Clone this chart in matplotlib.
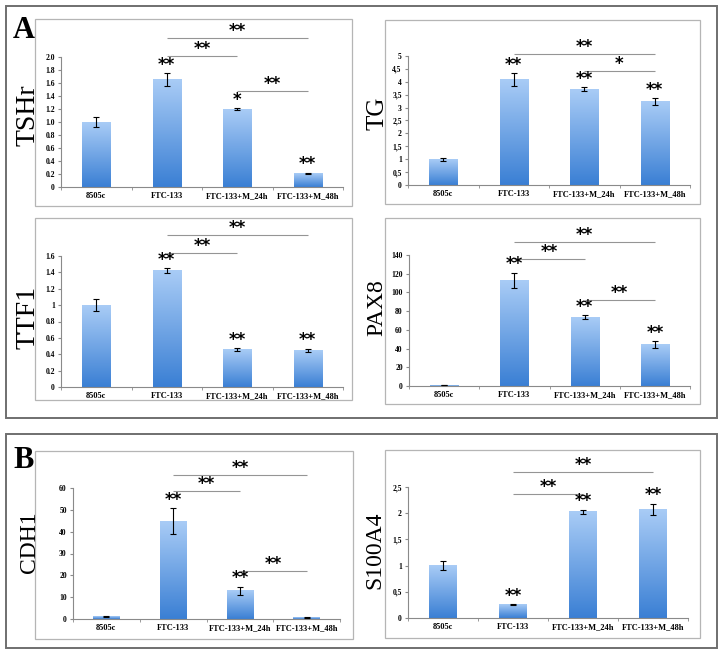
import numpy as np
import matplotlib
matplotlib.use("Agg")
import matplotlib.pyplot as plt
from matplotlib.colors import LinearSegmentedColormap
from matplotlib.patches import Rectangle

# ---------------- data ----------------
categories = ["8505c", "FTC-133", "FTC-133+M_24h", "FTC-133+M_48h"]

tshr = [1.0, 1.65, 1.2, 0.21]
tshr_err = [0.07, 0.10, 0.015, 0.01]
tshr_stars = ["", "**", "*", "**"]
tshr_cmp = [(1, 3, 2.29, "**"), (1, 2, 2.01, "**"), (2, 3, 1.48, "**")]
tshr_ticks = [0, 0.2, 0.4, 0.6, 0.8, 1.0, 1.2, 1.4, 1.6, 1.8, 2.0]
tshr_ticklabels = ["0", "0.2", "0.4", "0.6", "0.8", "1.0", "1.2", "1.4", "1.6", "1.8", "2.0"]

tg = [1.0, 4.08, 3.72, 3.23]
tg_err = [0.06, 0.26, 0.08, 0.14]
tg_stars = ["", "**", "**", "**"]
tg_cmp = [(1, 3, 5.07, "**"), (2, 3, 4.41, "*")]
tg_ticks = [0, 0.5, 1, 1.5, 2, 2.5, 3, 3.5, 4, 4.5, 5]
tg_ticklabels = ["0", "0,5", "1", "1,5", "2", "2,5", "3", "3,5", "4", "4,5", "5"]

ttf1 = [1.0, 1.42, 0.46, 0.45]
ttf1_err = [0.075, 0.03, 0.015, 0.02]
ttf1_stars = ["", "**", "**", "**"]
ttf1_cmp = [(1, 3, 1.86, "**"), (1, 2, 1.64, "**")]
ttf1_ticks = [0, 0.2, 0.4, 0.6, 0.8, 1.0, 1.2, 1.4, 1.6]
ttf1_ticklabels = ["0", "0.2", "0.4", "0.6", "0.8", "1", "1.2", "1.4", "1.6"]

pax8 = [1.0, 113, 73.5, 44.5]
pax8_err = [0.3, 8, 2.3, 3.5]
pax8_stars = ["", "**", "**", "**"]
pax8_cmp = [(1, 3, 154, "**"), (1, 2, 136, "**"), (2, 3, 92, "**")]
pax8_ticks = [0, 20, 40, 60, 80, 100, 120, 140]
pax8_ticklabels = ["0", "20", "40", "60", "80", "100", "120", "140"]

cdh1 = [1.0, 44.8, 13.0, 0.8]
cdh1_err = [0.2, 6.0, 1.8, 0.2]
cdh1_stars = ["", "**", "**", ""]
cdh1_cmp = [(1, 3, 65.8, "**"), (1, 2, 58.6, "**"), (2, 3, 22.0, "**")]
cdh1_ticks = [0, 10, 20, 30, 40, 50, 60]
cdh1_ticklabels = ["0", "10", "20", "30", "40", "50", "60"]

s100a4 = [1.0, 0.26, 2.03, 2.07]
s100a4_err = [0.09, 0.01, 0.04, 0.11]
s100a4_stars = ["", "**", "**", "**"]
s100a4_cmp = [(1, 3, 2.78, "**"), (1, 2, 2.37, "**")]
s100a4_ticks = [0, 0.5, 1, 1.5, 2, 2.5]
s100a4_ticklabels = ["0", "0,5", "1", "1,5", "2", "2,5"]

# ---------------- layout ----------------
W, H = 723, 662
fig = plt.figure(figsize=(W / 100, H / 100), dpi=100)
fig.patch.set_facecolor("white")

SERIF = ["Liberation Serif", "DejaVu Serif"]
cmap = LinearSegmentedColormap.from_list("bar", ["#3a7fd4", "#a9ccf6"])
grad = np.linspace(0, 1, 256).reshape(-1, 1)


def fig_rect(x0, y0, x1, y1, ec, lw):
    r = Rectangle((x0 / W, 1 - y1 / H), (x1 - x0) / W, (y1 - y0) / H,
                  transform=fig.transFigure, fill=False, ec=ec, lw=lw)
    fig.add_artist(r)


def panel(box, axpix, label, label_x, label_y, label_size, vals, errs, stars,
          cmps, ticks, ticklabels):
    fig_rect(*box, ec="#b5b5b5", lw=0.9)
    x0, y0, x1, y1 = axpix
    ax = fig.add_axes([x0 / W, 1 - y1 / H, (x1 - x0) / W, (y1 - y0) / H])
    ymax = ticks[-1]
    xs = np.arange(len(categories))
    bars = ax.bar(xs, vals, width=0.4, color="none", edgecolor="none", zorder=2)
    for b in bars:
        bx = b.get_x()
        ax.imshow(grad, extent=[bx, bx + b.get_width(), 0, b.get_height()],
                  origin="lower", aspect="auto", cmap=cmap, zorder=2,
                  interpolation="bilinear")
    ax.errorbar(xs, vals, yerr=errs, fmt="none", ecolor="black", elinewidth=0.8,
                capsize=2.2, capthick=0.8, zorder=3)
    for xi, v, e, s in zip(xs, vals, errs, stars):
        if s:
            ax.text(xi, v + e - 0.005 * ymax, s, ha="center", va="bottom",
                    fontsize=12, fontweight="bold", family="DejaVu Sans",
                    clip_on=False, zorder=4)
    for i, j, y, s in cmps:
        ax.plot([i, j], [y, y], color="#959595", lw=0.8, clip_on=False,
                solid_capstyle="butt")
        ax.text((i + j) / 2, y - 0.015 * ymax, s, ha="center", va="bottom",
                fontsize=12, fontweight="bold", family="DejaVu Sans",
                clip_on=False)
    ax.set_xlim(-0.5, len(categories) - 0.5)
    ax.set_ylim(0, ymax)
    ax.set_yticks(ticks)
    ax.set_yticklabels(ticklabels, family=SERIF, fontweight="bold", fontsize=5.5)
    ax.set_xticks(xs)
    ax.set_xticklabels(categories, family=SERIF, fontweight="bold", fontsize=6)
    ax.set_xticks(np.arange(len(categories) + 1) - 0.5, minor=True)
    ax.tick_params(axis="x", which="major", length=0, pad=3.5)
    ax.tick_params(axis="x", which="minor", length=2.5, color="#8a8a8a",
                   direction="out")
    ax.tick_params(axis="y", length=2.5, color="#8a8a8a", pad=2)
    for sp in ["top", "right"]:
        ax.spines[sp].set_visible(False)
    for sp in ["left", "bottom"]:
        ax.spines[sp].set_color("#8a8a8a")
        ax.spines[sp].set_linewidth(0.8)
    ax.patch.set_alpha(0)
    fig.text(label_x / W, 1 - label_y / H, label, rotation=90, ha="center",
             va="center", family=SERIF, fontsize=label_size)
    return ax


# outer frames
fig_rect(6, 6, 717, 418, ec="#6f6f6f", lw=1.4)
fig_rect(6, 434, 717, 648, ec="#6f6f6f", lw=1.4)

panel((35, 19, 352, 206), (61, 57, 343, 187), "TSHr", 28, 115, 20,
      tshr, tshr_err, tshr_stars, tshr_cmp, tshr_ticks, tshr_ticklabels)
panel((385, 20, 700, 204), (408, 56, 690, 185), "TG", 378, 113, 18,
      tg, tg_err, tg_stars, tg_cmp, tg_ticks, tg_ticklabels)
panel((35, 218, 352, 400), (61, 256, 343, 387), "TTF1", 28, 317, 20,
      ttf1, ttf1_err, ttf1_stars, ttf1_cmp, ttf1_ticks, ttf1_ticklabels)
panel((385, 218, 700, 404), (409, 255, 690, 386), "PAX8", 377, 308, 17,
      pax8, pax8_err, pax8_stars, pax8_cmp, pax8_ticks, pax8_ticklabels)
panel((35, 451, 353, 639), (73, 488, 340, 619), "CDH1", 30, 542, 17,
      cdh1, cdh1_err, cdh1_stars, cdh1_cmp, cdh1_ticks, cdh1_ticklabels)
panel((385, 450, 700, 638), (408, 487, 688, 618), "S100A4", 375, 550, 17,
      s100a4, s100a4_err, s100a4_stars, s100a4_cmp, s100a4_ticks,
      s100a4_ticklabels)

fig.text(24 / W, 1 - 30 / H, "A", ha="center", va="center", family=SERIF,
         fontweight="bold", fontsize=22)
fig.text(24 / W, 1 - 461 / H, "B", ha="center", va="center", family=SERIF,
         fontweight="bold", fontsize=22)

fig.savefig("out.png", dpi=100)
